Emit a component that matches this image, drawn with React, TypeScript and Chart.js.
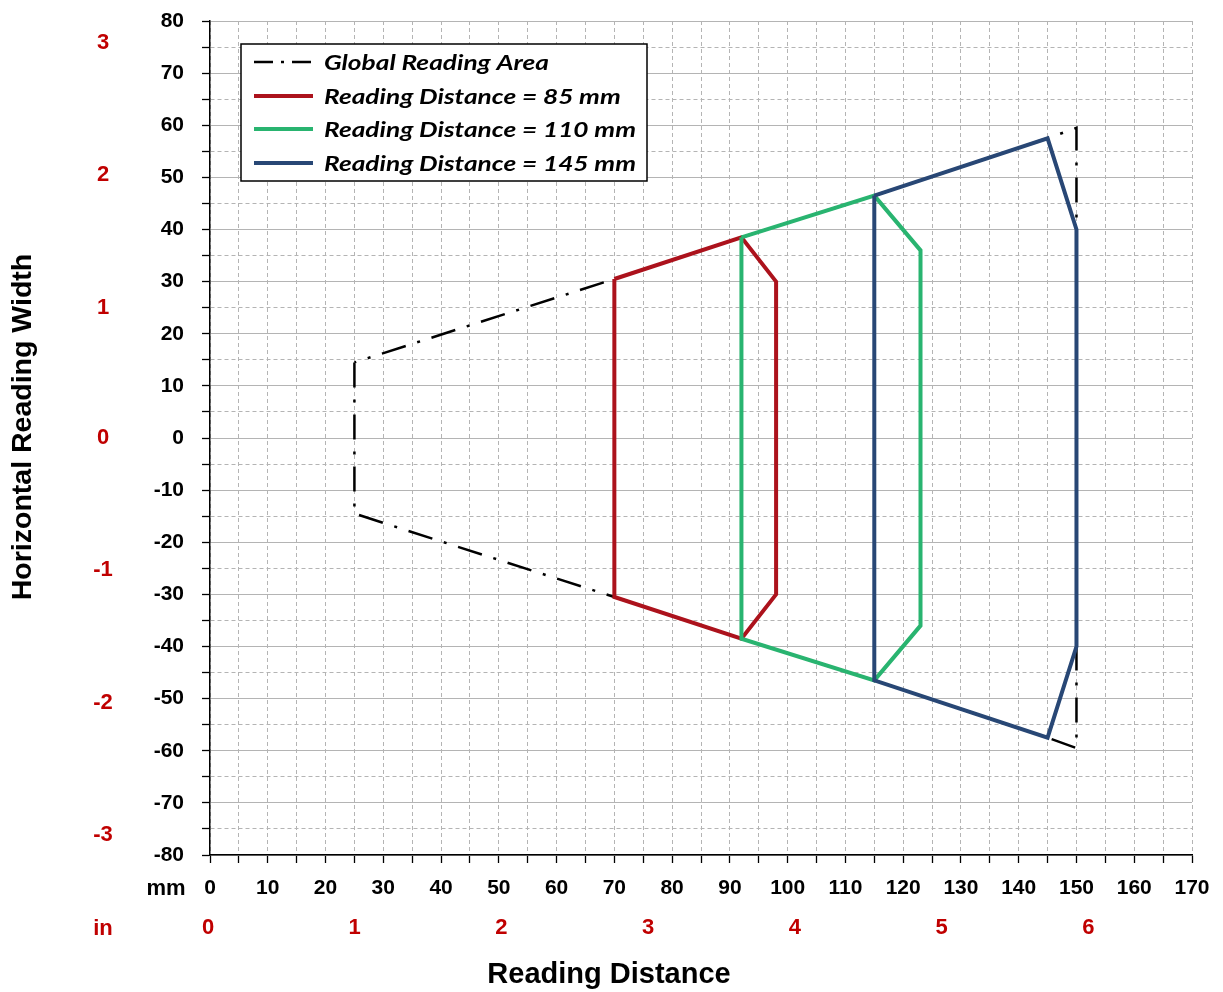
import React, { useEffect, useRef } from 'react';
import { Chart, registerables } from 'chart.js';

Chart.register(...registerables);

// ---------- data ----------
const seriesLabels = [
  'Global Reading Area',
  'Reading Distance = 85 mm',
  'Reading Distance = 110 mm',
  'Reading Distance = 145 mm',
];
const seriesColors = ['#000000', '#AC121C', '#29B470', '#284775'];

const globalX = [25, 25, 70, 92, 115, 145, 150, 150, 145, 115, 92, 70, 25];
const globalY = [14.5, -14.5, -30.5, -38.5, -46.5, -57.5, -59.5, 59.5, 57.5, 46.5, 38.5, 30.5, 14.5];

const d85X = [70, 92, 98, 98, 92, 70, 70];
const d85Y = [30.5, 38.5, 30, -30, -38.5, -30.5, 30.5];

const d110X = [92, 115, 123, 123, 115, 92, 92];
const d110Y = [38.5, 46.5, 36, -36, -46.5, -38.5, 38.5];

const d145X = [115, 145, 150, 150, 145, 115, 115];
const d145Y = [46.5, 57.5, 40, -40, -57.5, -46.5, 46.5];

const xMin = 0;
const xMax = 170;
const yMin = -80;
const yMax = 80;
const tickStep = 5;
const labelStep = 10;

const inchLabelsX = [0, 1, 2, 3, 4, 5, 6];
const inchLabelsY = [-3, -2, -1, 0, 1, 2, 3];
const MM_PER_INCH = 25.4;

const xTitle = 'Reading Distance';
const yTitle = 'Horizontal Reading Width';
const mmUnit = 'mm';
const inUnit = 'in';

const toPoints = (xs: number[], ys: number[]) => xs.map((x, i) => ({ x, y: ys[i] }));

const ARIAL = '"Liberation Sans", Arial, sans-serif';
const LEGEND_FONT = 'Lato, "Open Sans", sans-serif';
const GLOBAL_DASH = [25, 12, 3, 12];
const LEGEND_GLOBAL_DASH = [19, 8, 3, 8];

const extrasPlugin = {
  id: 'extras',
  afterDraw(chart: any) {
    const { ctx, scales } = chart;
    const x = scales.x;
    const y = scales.y;
    ctx.save();
    ctx.textAlign = 'center';
    ctx.textBaseline = 'middle';

    // inch labels (red)
    ctx.fillStyle = '#C00000';
    ctx.font = `bold 22px ${ARIAL}`;
    inchLabelsY.forEach((v) => ctx.fillText(String(v), 103, y.getPixelForValue(v * MM_PER_INCH) + (v > 0 ? 2 : 0)));
    inchLabelsX.forEach((v) => ctx.fillText(String(v), x.getPixelForValue(v * MM_PER_INCH) - 2, 928));
    ctx.fillText(inUnit, 103, 929);

    // mm unit
    ctx.fillStyle = '#000';
    ctx.font = `bold 22px ${ARIAL}`;
    ctx.fillText(mmUnit, 166, 889);

    // axis titles
    ctx.font = `bold 29px ${ARIAL}`;
    ctx.fillText(xTitle, 609, 975);
    ctx.save();
    ctx.translate(23, 427);
    ctx.rotate(-Math.PI / 2);
    ctx.font = `bold 28.5px ${ARIAL}`;
    ctx.fillText(yTitle, 0, 0);
    ctx.restore();

    // legend
    const bx = 241, by = 44, bw = 406, bh = 137;
    ctx.fillStyle = '#fff';
    ctx.fillRect(bx, by, bw, bh);
    ctx.strokeStyle = '#000';
    ctx.lineWidth = 1.5;
    ctx.strokeRect(bx, by, bw, bh);
    const rows = [62, 96, 129, 163];
    chart.data.datasets.forEach((ds: any, i: number) => {
      const ry = rows[i];
      ctx.save();
      ctx.strokeStyle = ds.borderColor;
      ctx.lineWidth = ds.borderWidth;
      ctx.setLineDash(i === 0 ? LEGEND_GLOBAL_DASH : []);
      ctx.lineCap = 'butt';
      ctx.beginPath();
      ctx.moveTo(254, ry);
      ctx.lineTo(313, ry);
      ctx.stroke();
      ctx.restore();
      ctx.save();
      ctx.fillStyle = '#000';
      ctx.textAlign = 'left';
      ctx.font = `italic bold 21px ${LEGEND_FONT}`;
      ctx.translate(324, ry + 1);
      ctx.scale(1.25, 1);
      ctx.fillText(ds.label, 0, 0);
      ctx.restore();
    });
    ctx.restore();
  },
};

export default function App() {
  const canvasRef = useRef<HTMLCanvasElement | null>(null);

  useEffect(() => {
    document.body.style.margin = '0';
    const canvas = canvasRef.current;
    if (!canvas) return;
    const xsAll = [globalX, d85X, d110X, d145X];
    const ysAll = [globalY, d85Y, d110Y, d145Y];
    const datasets = seriesLabels.map((label, i) => ({
      label,
      data: toPoints(xsAll[i], ysAll[i]),
      showLine: true,
      borderColor: seriesColors[i],
      backgroundColor: seriesColors[i],
      borderWidth: i === 0 ? 2.5 : 4,
      borderDash: i === 0 ? GLOBAL_DASH : [],
      pointRadius: 0,
      pointHoverRadius: 0,
      tension: 0,
      fill: false,
      order: 3 - i,
    }));

    const tickFont = { family: ARIAL, size: 21, weight: 'bold' };
    const gridOpts = {
      color: '#B4B4B4',
      lineWidth: 1,
      tickLength: 8,
      tickColor: '#000',
      tickWidth: 1.3,
      tickBorderDash: [],
    };

    const chart = new Chart(canvas, {
      type: 'scatter',
      data: { datasets },
      plugins: [extrasPlugin],
      options: {
        animation: false,
        responsive: false,
        devicePixelRatio: 1,
        events: [],
        layout: { padding: { left: 0, right: 31, top: 21, bottom: 0 } },
        plugins: { legend: { display: false }, tooltip: { enabled: false }, title: { display: false } },
        scales: {
          x: {
            type: 'linear',
            min: xMin,
            max: xMax,
            afterFit: (s: any) => {
              s.height = 137;
              s.paddingLeft = 0;
              s.paddingRight = 0;
            },
            ticks: {
              stepSize: tickStep,
              autoSkip: false,
              maxRotation: 0,
              minRotation: 0,
              padding: 13,
              color: '#000',
              font: tickFont,
              callback: (v: any) => (Number(v) % labelStep === 0 ? String(v) : ''),
            },
            grid: gridOpts,
            border: { display: true, color: '#000', width: 1.5, dash: [4, 3] },
          },
          y: {
            type: 'linear',
            min: yMin,
            max: yMax,
            afterFit: (s: any) => {
              s.width = 210;
              s.paddingTop = 0;
              s.paddingBottom = 0;
            },
            ticks: {
              stepSize: tickStep,
              autoSkip: false,
              padding: 18,
              color: '#000',
              font: tickFont,
              callback: (v: any) => (Number(v) % labelStep === 0 ? String(v) : ''),
            },
            grid: gridOpts,
            border: {
              display: true,
              color: '#000',
              width: 1.5,
              dash: (c: any) => (c.tick && Math.abs(c.tick.value % labelStep) !== 0 ? [4, 3] : []),
            },
          },
        },
      } as any,
    });
    return () => chart.destroy();
  }, []);

  return (
    <div style={{ width: 1223, height: 992 }}>
      <canvas ref={canvasRef} width={1223} height={992} style={{ display: 'block', width: 1223, height: 992 }} />
    </div>
  );
}
